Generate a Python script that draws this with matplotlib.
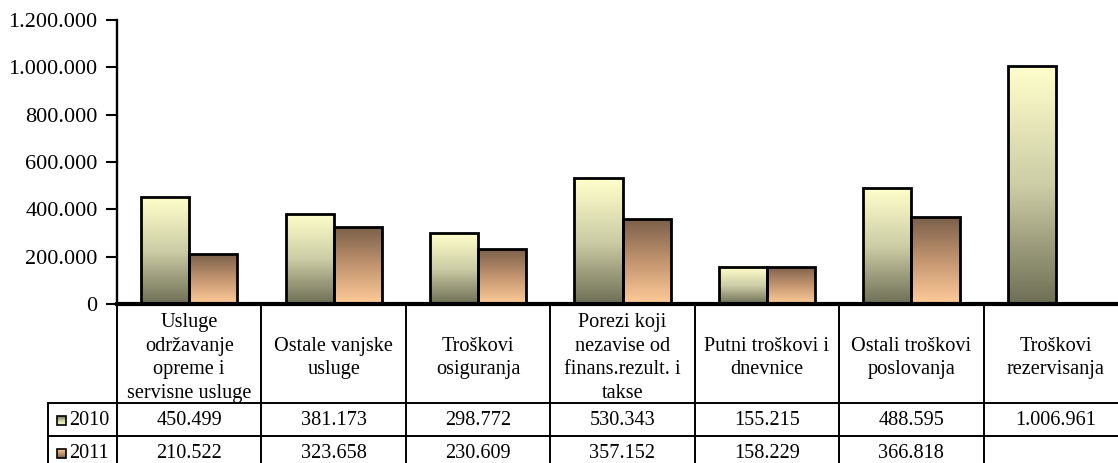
import matplotlib
matplotlib.use("Agg")
import matplotlib.pyplot as plt
import numpy as np
from matplotlib.colors import LinearSegmentedColormap
from matplotlib.patches import Rectangle

categories = [
    "Usluge\nodržavanje\nopreme i\nservisne usluge",
    "Ostale vanjske\nusluge",
    "Troškovi\nosiguranja",
    "Porezi koji\nnezavise od\nfinans.rezult. i\ntakse",
    "Putni troškovi i\ndnevnice",
    "Ostali troškovi\nposlovanja",
    "Troškovi\nrezervisanja",
]
series_names = ["2010", "2011"]
values_2010 = [450499, 381173, 298772, 530343, 155215, 488595, 1006961]
values_2011 = [210522, 323658, 230609, 357152, 158229, 366818, None]
y_ticks = [0, 200000, 400000, 600000, 800000, 1000000, 1200000]

plt.rcParams['font.family'] = ['Liberation Serif', 'DejaVu Serif']
FS = 14.6
FS_TICK = 16

cmap_2010 = LinearSegmentedColormap.from_list(
    "c2010", [(0.0, "#6E6E55"), (0.5, "#CDCDA6"), (1.0, "#FFFFCC")])
cmap_2011 = LinearSegmentedColormap.from_list(
    "c2011", [(0.0, "#FFCC99"), (0.5, "#C39570"), (1.0, "#7A604A")])
cmaps = [cmap_2010, cmap_2011]

W, H = 1118, 463
fig = plt.figure(figsize=(W / 100, H / 100), dpi=100)

# pixel layout
x_left, x_right = 117, 1128
y_top, y_zero = 20, 304
ax = fig.add_axes([x_left / W, (H - y_zero) / H, (x_right - x_left) / W, (y_zero - y_top) / H])

grad = np.linspace(0, 1, 256).reshape(-1, 1)
bw = 1 / 3
for s, vals in enumerate([values_2010, values_2011]):
    for i, v in enumerate(vals):
        if v is None:
            continue
        x0 = i - bw + s * bw
        rect = Rectangle((x0, 0), bw, v, facecolor="none", edgecolor="black", lw=2.0, zorder=3)
        ax.add_patch(rect)
        im = ax.imshow(grad, cmap=cmaps[s], origin="lower", aspect="auto",
                       extent=[x0, x0 + bw, 0, v], zorder=2)
        im.set_clip_path(rect)
ax.set_xlim(-0.5, 6.5)
ax.set_ylim(0, 1200000)

ax.set_yticks(y_ticks)
ax.set_yticklabels([f"{t:,}".replace(",", ".") for t in y_ticks])
ax.tick_params(axis='y', direction='out', length=8, width=1.5, labelsize=FS_TICK, pad=6)
ax.set_xticks([])
for sp in ["top", "right"]:
    ax.spines[sp].set_visible(False)
ax.spines["left"].set_linewidth(1.7)
ax.spines["bottom"].set_linewidth(3.0)
ax.spines["bottom"].set_zorder(5)

# data table below
t_left = 48
t_bottom = 469
unit = (x_right - x_left) / 7.0
xl = -0.5 - (x_left - t_left) / unit
tax = fig.add_axes([t_left / W, (H - t_bottom) / H, (x_right - t_left) / W, (t_bottom - y_zero) / H])
tax.axis("off")

hdr = 99
r1 = 132
r2 = 165
lw = 1.4
for b in np.arange(-0.5, 7.0, 1.0):
    tax.plot([b, b], [0, r2], color="black", lw=lw, clip_on=False)
tax.plot([xl, xl], [hdr, r2], color="black", lw=lw, clip_on=False)
for yy in [hdr, r1, r2]:
    tax.plot([xl, 6.5], [yy, yy], color="black", lw=lw, clip_on=False)

for i, c in enumerate(categories):
    tax.text(i, hdr / 2 + 4.5, c, ha="center", va="center", fontsize=FS, linespacing=1.31)

rows = [values_2010, values_2011]
row_c = [(hdr + r1) / 2 + 1, (r1 + r2) / 2 + 1]
for s, vals in enumerate(rows):
    for i, v in enumerate(vals):
        if v is None:
            continue
        tax.text(i, row_c[s], f"{v:,}".replace(",", "."), ha="center", va="center", fontsize=FS)
    # legend key
    sq = 9 / unit
    kx = xl + 9 / unit
    ky0 = row_c[s] - 4.5
    key = Rectangle((kx, ky0), sq, 9, facecolor="none", edgecolor="black", lw=1.2, zorder=3, clip_on=False)
    tax.add_patch(key)
    im = tax.imshow(grad, cmap=cmaps[s], origin="upper", aspect="auto",
                    extent=[kx, kx + sq, ky0 + 9, ky0], zorder=2)
    im.set_clip_path(key)
    tax.text(xl + 21 / unit, row_c[s], series_names[s], ha="left", va="center", fontsize=FS)
tax.set_xlim(xl, 6.5)
tax.set_ylim(t_bottom - y_zero, 0)

fig.savefig("out.png", dpi=100)
